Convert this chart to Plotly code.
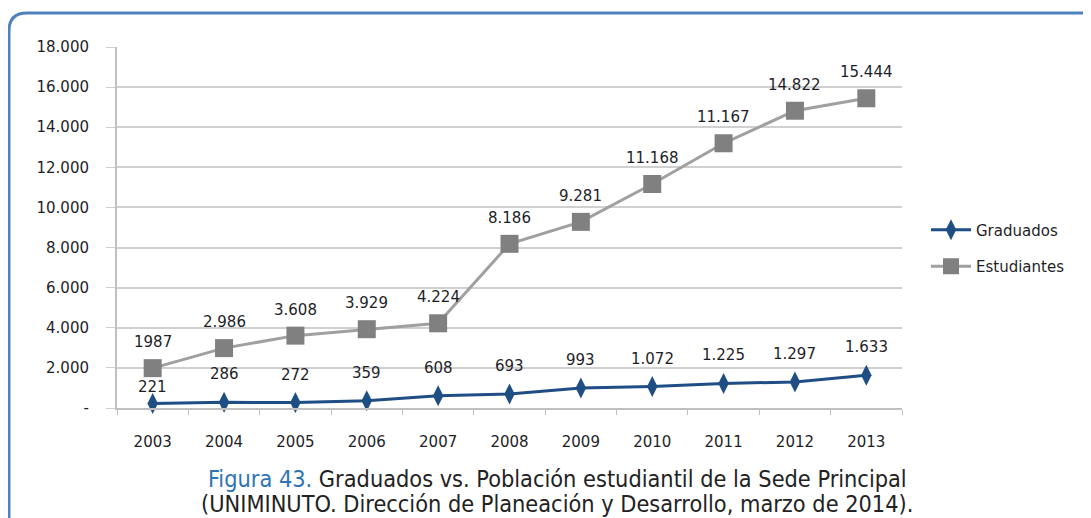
import plotly.graph_objects as go

years = ["2003", "2004", "2005", "2006", "2007", "2008", "2009", "2010", "2011", "2012", "2013"]
graduados = [221, 286, 272, 359, 608, 693, 993, 1072, 1225, 1297, 1633]
graduados_labels = ["221", "286", "272", "359", "608", "693", "993", "1.072", "1.225", "1.297", "1.633"]
estudiantes = [1987, 2986, 3608, 3929, 4224, 8186, 9281, 11168, 13200, 14822, 15444]
estudiantes_labels = ["1987", "2.986", "3.608", "3.929", "4.224", "8.186", "9.281", "11.168", "11.167", "14.822", "15.444"]
y_ticks = [0, 2000, 4000, 6000, 8000, 10000, 12000, 14000, 16000, 18000]
y_tick_labels = ["-", "2.000", "4.000", "6.000", "8.000", "10.000", "12.000", "14.000", "16.000", "18.000"]

W, H = 1091, 518
OFF = 8  # page body margin
L, R, T, B = 117 - OFF, 902 - OFF, 47 - OFF, 408 - OFF

FONT = "DejaVu Sans"
TXT = "#1e1e28"

fig = go.Figure()
fig.add_trace(go.Scatter(
    x=years, y=graduados, name="Graduados", mode="lines+markers",
    line=dict(color="#1f4e85", width=3),
    marker=dict(symbol="diamond-tall", size=15, color="#1f4e85"),
    legendgroup="g", cliponaxis=False,
))
fig.add_trace(go.Scatter(
    x=years, y=estudiantes, name="Estudiantes", mode="lines+markers",
    line=dict(color="#a0a0a0", width=3),
    marker=dict(symbol="square", size=18, color="#808080"),
    legendgroup="e", cliponaxis=False,
))

for i, (v, t) in enumerate(zip(graduados, graduados_labels)):
    fig.add_annotation(x=i, y=v, text=t, showarrow=False, yshift=17 if i == 0 else 28,
                       font=dict(family=FONT, size=15, color=TXT))
for i, (v, t) in enumerate(zip(estudiantes, estudiantes_labels)):
    fig.add_annotation(x=i, y=v, text=t, showarrow=False, yshift=26,
                       font=dict(family=FONT, size=15, color=TXT))

def px(xp):
    return (xp - OFF - L) / (R - L)

def py(yp):
    return (B - (yp - OFF)) / (B - T)

# rounded border
x0, y0, x1, y1, r = 9, 13, 1120, 540, 18
path = (f"M {px(x0)},{py(y1)} L {px(x0)},{py(y0 + r)} "
        f"Q {px(x0)},{py(y0)} {px(x0 + r)},{py(y0)} "
        f"L {px(x1)},{py(y0)}")
fig.add_shape(type="path", path=path, xref="paper", yref="paper",
              line=dict(color="#4f81bd", width=3), layer="below")

fig.add_annotation(
    x=px(557), y=py(478), xref="paper", yref="paper", showarrow=False,
    text="<span style='color:#2e74b5'>Figura 43.</span> Graduados vs. Población estudiantil de la Sede Principal",
    font=dict(family="DejaVu Sans Condensed", size=23.3, color="#222222"),
    xanchor="center", yanchor="middle")
fig.add_annotation(
    x=px(557), y=py(503), xref="paper", yref="paper", showarrow=False,
    text="(UNIMINUTO. Dirección de Planeación y Desarrollo, marzo de 2014).",
    font=dict(family="DejaVu Sans Condensed", size=23.3, color="#222222"),
    xanchor="center", yanchor="middle")

fig.update_layout(
    width=W, height=H,
    margin=dict(l=L, r=W - R, t=T, b=H - B),
    paper_bgcolor="white", plot_bgcolor="white",
    showlegend=True,
    legend=dict(x=px(926), y=py(248), xanchor="left", yanchor="middle",
                font=dict(family=FONT, size=15, color=TXT),
                traceorder="grouped", tracegroupgap=14,
                itemwidth=40, bgcolor="rgba(0,0,0,0)"),
    xaxis=dict(type="category", categoryorder="array", categoryarray=years,
               range=[-0.5, len(years) - 0.5],
               showgrid=False, showline=True, linecolor="#bfbfbf", linewidth=2,
               ticks="outside", tickson="boundaries", ticklen=5, tickcolor="#bfbfbf",
               tickfont=dict(family=FONT, size=15, color=TXT), ticklabelstandoff=19,
               fixedrange=True),
    yaxis=dict(range=[0, 18000], tickvals=y_ticks, ticktext=y_tick_labels,
               showgrid=True, gridcolor="#d0d0d0", gridwidth=2,
               showline=True, linecolor="#bfbfbf", linewidth=2,
               ticks="outside", ticklen=9, tickcolor="#d0d0d0",
               tickfont=dict(family=FONT, size=15, color=TXT), ticklabelstandoff=14,
               zeroline=False, fixedrange=True),
)

fig.write_html("out.html")
